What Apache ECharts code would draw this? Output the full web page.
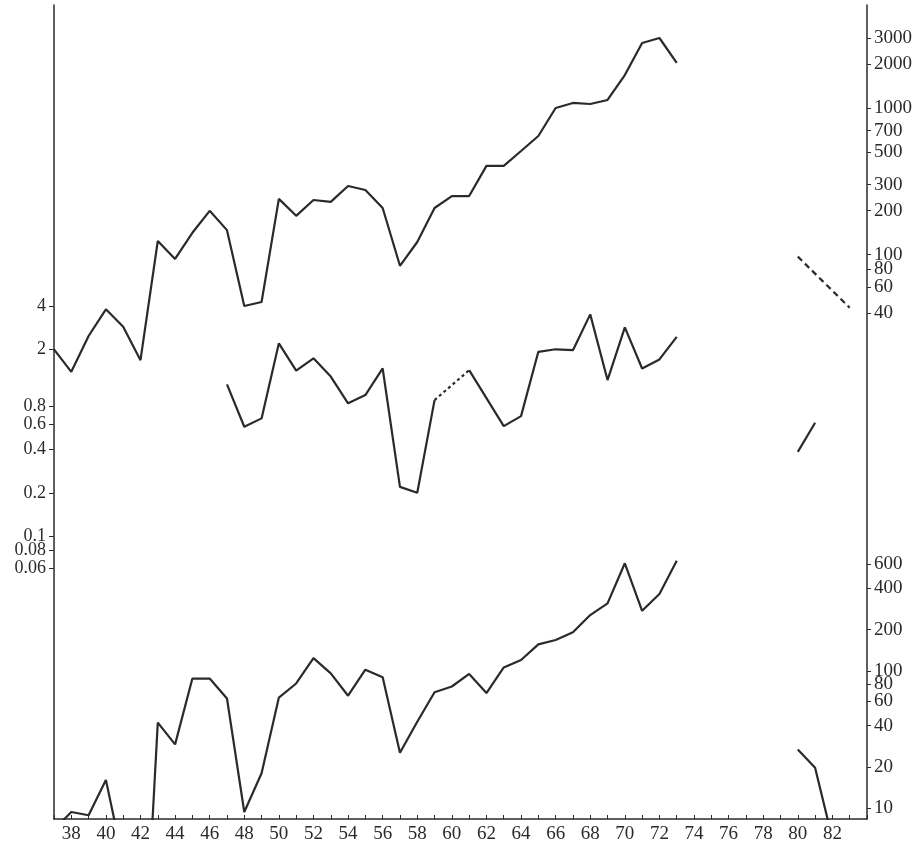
<!DOCTYPE html>
<html>
<head>
<meta charset="utf-8">
<script src="https://cdn.jsdelivr.net/npm/echarts@6/dist/echarts.min.js"></script>
<style>
  html, body { margin: 0; padding: 0; background: #fff; }
  #chart { width: 915px; height: 848px; }
</style>
</head>
<body>
<div id="chart"></div>
<script>
// ---- tick labels ----
const xLabelYears = [38,40,42,44,46,48,50,52,54,56,58,60,62,64,66,68,70,72,74,76,78,80,82];
const leftTicks = [4, 2, 0.8, 0.6, 0.4, 0.2, 0.1, 0.08, 0.06];
const rightTopTicks = [3000, 2000, 1000, 700, 500, 300, 200, 100, 80, 60, 40];
const rightBottomTicks = [600, 400, 200, 100, 80, 60, 40, 20, 10];

// ---- top series (right upper scale) ----
const topYears = [37,38,39,40,41,42,43,44,45,46,47,48,49,50,51,52,53,54,55,56,57,58,59,60,61,62,63,64,65,66,67,68,69,70,71,72,73];
const topValues = [22.6,15.9,27.9,42.4,32.3,19.1,124,93.5,141,199,147,44.7,47.6,240,184,236,229,294,276,208,84,122,208,251,251,403,403,509,644,1000,1082,1065,1134,1678,2774,3000,2027];
const topDashYears = [80, 83];
const topDashValues = [97, 43.5];

// ---- middle series (left scale) ----
const midYearsA = [47,48,49,50,51,52,53,54,55,56,57,58,59];
const midValuesA = [1.14,0.577,0.66,2.2,1.42,1.73,1.29,0.84,0.96,1.47,0.22,0.2,0.885];
const midDashYears = [59, 61];
const midDashValues = [0.885, 1.43];
const midYearsB = [61,63,64,65,66,67,68,69,70,71,72,73];
const midValuesB = [1.43,0.583,0.684,1.92,2.0,1.97,3.5,1.22,2.84,1.47,1.70,2.44];
const midFragYears = [80, 81];
const midFragValues = [0.386, 0.615];

// ---- bottom series (right lower scale) ----
const botYears = [37,38,39,40,41,42,43,44,45,46,47,48,49,50,51,52,53,54,55,56,57,58,59,60,61,62,63,64,65,66,67,68,69,70,71,72,73];
const botValues = [7,9.4,8.9,16.1,4.1,0.2,42,29.2,88,88,63,9.4,18,64,81,124,96,66,102,90,25.4,42.7,70,77,95,69,106,120,156,168,191,255,310,607,274,363,634];
const botFragYears = [80, 81, 82];
const botFragValues = [26.8, 19.7, 6];

function zip(xs, ys) { return xs.map((x, i) => [x, ys[i]]); }

const INK = '#2a2a2a';
const FONT = 'Liberation Serif';
const labelStyle = {
  color: '#2a2a2a', fontFamily: FONT, fontSize: 19,
  hideOverlap: false, showMinLabel: true, showMaxLabel: true
};
const fmt = v => String(+Number(v).toPrecision(6));

function lineSeries(data, yAxisIndex, dash) {
  return {
    type: 'line',
    data: data,
    yAxisIndex: yAxisIndex,
    showSymbol: false,
    symbol: 'none',
    clip: true,
    lineStyle: { color: INK, width: 2.2, type: dash || 'solid' },
    silent: true
  };
}

const chart = echarts.init(document.getElementById('chart'));
chart.setOption({
  animation: false,
  backgroundColor: '#ffffff',
  grid: { left: 54, right: 46, top: 5, bottom: 29, containLabel: false },
  xAxis: {
    type: 'value',
    min: 37, max: 84, interval: 1,
    axisLine: { show: true, lineStyle: { color: INK, width: 1.5 } },
    axisTick: { show: true, inside: true, length: 4, lineStyle: { color: INK } },
    splitLine: { show: false },
    axisLabel: Object.assign({}, labelStyle, {
      margin: 6,
      formatter: v => xLabelYears.indexOf(v) >= 0 ? String(v) : ''
    })
  },
  yAxis: [
    {
      type: 'log', position: 'left',
      min: 0.001067, max: 501,
      axisLine: { show: true, lineStyle: { color: INK, width: 1.5 } },
      axisTick: { show: true, length: 5, customValues: leftTicks, lineStyle: { color: INK } },
      splitLine: { show: false },
      minorTick: { show: false },
      axisLabel: Object.assign({}, labelStyle, { fontSize: 18, margin: 8, customValues: leftTicks, formatter: fmt })
    },
    {
      type: 'log', position: 'right',
      min: 0.01422, max: 5036,
      axisLine: { show: true, lineStyle: { color: INK, width: 1.5 } },
      axisTick: { show: true, length: 4, customValues: rightTopTicks, lineStyle: { color: INK } },
      splitLine: { show: false },
      axisLabel: Object.assign({}, labelStyle, { margin: 7, customValues: rightTopTicks, formatter: fmt })
    },
    {
      type: 'log', position: 'right',
      min: 8.36, max: 7.02e6,
      axisLine: { show: false },
      axisTick: { show: true, length: 4, customValues: rightBottomTicks, lineStyle: { color: INK } },
      splitLine: { show: false },
      axisLabel: Object.assign({}, labelStyle, { margin: 7, customValues: rightBottomTicks, formatter: fmt })
    }
  ],
  series: [
    lineSeries(zip(topYears, topValues), 1),
    lineSeries(zip(topDashYears, topDashValues), 1, [6, 4]),
    lineSeries(zip(midYearsA, midValuesA), 0),
    lineSeries(zip(midDashYears, midDashValues), 0, [3, 3]),
    lineSeries(zip(midYearsB, midValuesB), 0),
    lineSeries(zip(midFragYears, midFragValues), 0),
    lineSeries(zip(botYears, botValues), 2),
    lineSeries(zip(botFragYears, botFragValues), 2)
  ]
});
</script>
</body>
</html>
